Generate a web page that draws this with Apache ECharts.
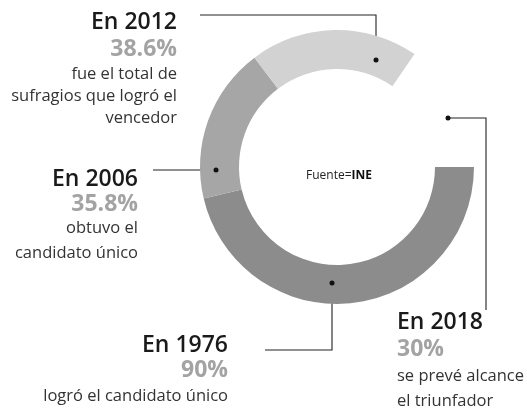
<!DOCTYPE html>
<html>
<head>
<meta charset="utf-8">
<script src="https://cdn.jsdelivr.net/npm/echarts@6/dist/echarts.min.js"></script>
<style>
  html, body { margin: 0; padding: 0; background: #fff; }
  #chart { width: 527px; height: 410px; }
</style>
</head>
<body>
<div id="chart"></div>
<script>
// datos (INE)
const years = ['1976', '2006', '2012', '2018'];
const percents = [90, 35.8, 38.6, 30];
const notes = [
  ['logró el candidato único'],
  ['obtuvo el', 'candidato único'],
  ['fue el total de', 'sufragios que logró el', 'vencedor'],
  ['se prevé alcance', 'el triunfador']
];
const sliceColors = ['#8c8c8c', '#a6a6a6', '#d2d2d2', 'rgba(0,0,0,0)'];

// posición de las anotaciones: punto en el anillo, codo, fin de línea, texto
const notePos = [
  { dot: [332, 283], bend: [332, 350], end: [265, 350], x: 228, y: 333, align: 'right', lh: [24, 26, 26] },
  { dot: [216, 170], bend: [185, 170], end: [153, 170], x: 138, y: 166, align: 'right', lh: [26, 24, 25] },
  { dot: [376, 60], bend: [376, 15], end: [200, 15], x: 177, y: 10, align: 'right', lh: [25, 28, 22] },
  { dot: [448, 118], bend: [486, 118], end: [486, 310], x: 397, y: 310, align: 'left', lh: [24, 30, 25] }
];

const chart = echarts.init(document.getElementById('chart'));

const seriesData = years.map((y, i) => ({
  name: y,
  value: percents[i],
  itemStyle: { color: sliceColors[i] },
  label: {
    align: notePos[i].align,
    rich: {
      y: { fontFamily: 'Open Sans', fontSize: 23, fontWeight: 600, color: '#1a1a1a', lineHeight: notePos[i].lh[0], align: notePos[i].align },
      v: { fontFamily: 'Open Sans', fontSize: 23, fontWeight: 'bold', color: '#a3a3a3', lineHeight: notePos[i].lh[1], align: notePos[i].align },
      t: { fontFamily: 'Open Sans', fontSize: 16.5, fontWeight: 'normal', color: '#333', lineHeight: notePos[i].lh[2], align: notePos[i].align }
    }
  }
}));

const option = {
  animation: false,
  title: {
    text: '{a|Fuente=}{b|INE}',
    left: 301,
    top: 165,
    textStyle: {
      fontWeight: 'normal',
      rich: {
        a: { fontFamily: 'Open Sans', fontSize: 12, fontWeight: 'normal', color: '#222' },
        b: { fontFamily: 'Open Sans', fontSize: 12, fontWeight: 'bold', color: '#111' }
      }
    }
  },
  series: [
    {
      type: 'pie',
      center: [337, 167],
      radius: [98, 137],
      startAngle: 0,
      clockwise: true,
      avoidLabelOverlap: false,
      silent: true,
      data: seriesData,
      label: {
        show: true,
        position: 'outside',
        formatter: function (p) {
          const i = p.dataIndex;
          return '{y|En ' + years[i] + '}\n{v|' + percents[i] + '%}\n' +
            notes[i].map(t => '{t|' + t + '}').join('\n');
        }
      },
      labelLine: {
        show: true,
        smooth: false,
        lineStyle: { color: '#222', width: 1.1 }
      },
      labelLayout: function (params) {
        const p = notePos[params.dataIndex];
        return {
          x: p.x,
          y: p.y,
          align: p.align,
          verticalAlign: 'top',
          labelLinePoints: [p.dot, p.bend, p.end]
        };
      }
    }
  ],
  graphic: notePos.map(p => ({
    type: 'circle',
    shape: { cx: p.dot[0], cy: p.dot[1], r: 2.5 },
    style: { fill: '#111' },
    z: 100
  }))
};

chart.setOption(option);
</script>
</body>
</html>
